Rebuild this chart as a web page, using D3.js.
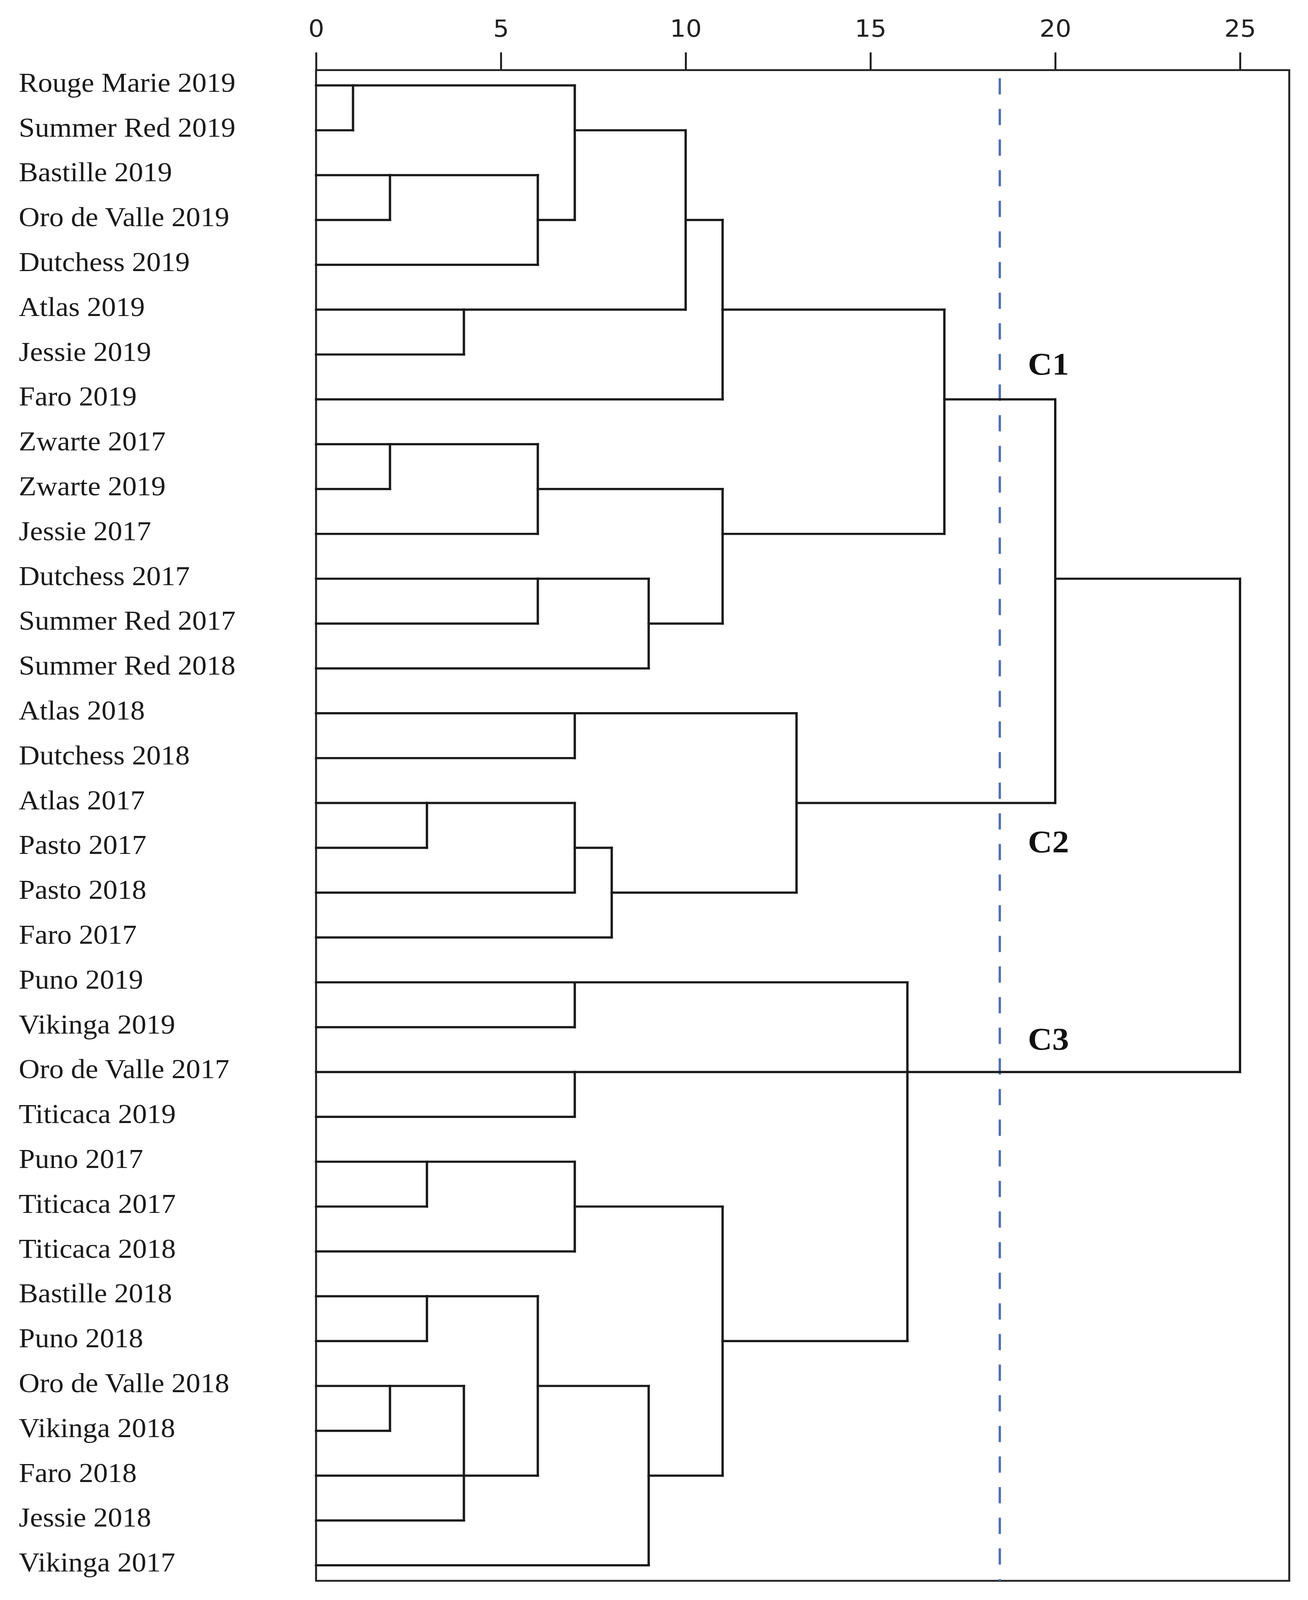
<!DOCTYPE html>
<html>
<head>
<meta charset="utf-8">
<script src="https://cdn.jsdelivr.net/npm/d3@7"></script>
<style>
  html, body { margin: 0; padding: 0; overflow: hidden; background: #fff; }
  .chart svg { display: block; width: 100vw; height: 100vh; }
</style>
</head>
<body>
<div class="chart"></div>
<script>
// leaves, top to bottom
var leafLabels = [
  "Rouge Marie 2019", "Summer Red 2019", "Bastille 2019", "Oro de Valle 2019",
  "Dutchess 2019", "Atlas 2019", "Jessie 2019", "Faro 2019",
  "Zwarte 2017", "Zwarte 2019", "Jessie 2017", "Dutchess 2017",
  "Summer Red 2017", "Summer Red 2018", "Atlas 2018", "Dutchess 2018",
  "Atlas 2017", "Pasto 2017", "Pasto 2018", "Faro 2017",
  "Puno 2019", "Vikinga 2019", "Oro de Valle 2017", "Titicaca 2019",
  "Puno 2017", "Titicaca 2017", "Titicaca 2018", "Bastille 2018",
  "Puno 2018", "Oro de Valle 2018", "Vikinga 2018", "Faro 2018",
  "Jessie 2018", "Vikinga 2017"
];

// merges: ids 0-33 are leaves, merge i gets id 34 + i
var mergeChildren = [
  [0, 1], [2, 3], [35, 4], [34, 36], [5, 6], [37, 38], [39, 7],
  [8, 9], [41, 10], [11, 12], [43, 13], [42, 44], [40, 45],
  [14, 15], [16, 17], [48, 18], [49, 19], [47, 50], [46, 51],
  [20, 21], [22, 23], [24, 25], [55, 26], [27, 28], [29, 30],
  [58, 31, 32], [57, 59], [60, 33], [56, 61], [53, 54, 62], [52, 63]
];
var mergeHeights = [
  1, 2, 6, 7, 4, 10, 11,
  2, 6, 6, 9, 11, 17,
  7, 3, 7, 8, 13, 20,
  7, 7, 3, 7, 3, 2,
  4, 6, 9, 11, 16, 25
];

var axisTicks = [0, 5, 10, 15, 20, 25];
var cutHeight = 18.5;
var clusterNames = ["C1", "C2", "C3"];

var svgWidth = 3348;
var svgHeight = 4336;

// drawn in a fixed 3348x4336 box, stretched to whatever the window is
var svg = d3.select(".chart")
  .append("svg")
  .attr("viewBox", `0 0 ${svgWidth} ${svgHeight}`)
  .attr("preserveAspectRatio", "none");

var frame = { left: 809, right: 3300, top: 190, bottom: 4284 };

var x = d3.scaleLinear()
  .domain([0, 25])
  .range([frame.left, frame.left + 25 * 94.6]);

var y = d3.scaleLinear()
  .domain([0, leafLabels.length - 1])
  .range([231.5, 4242]);

// row and height of every node
var nodeRow = leafLabels.map((d, i) => i);
var nodeHeight = leafLabels.map(() => 0);
mergeChildren.forEach(function(kids, i) {
  var rows = kids.map(k => nodeRow[k]).sort((a, b) => a - b);
  nodeRow.push(Math.floor(d3.median(rows)));
  nodeHeight.push(mergeHeights[i]);
});

// segments of the tree
var segs = [];
mergeChildren.forEach(function(kids, i) {
  var h = mergeHeights[i];
  var rows = kids.map(k => nodeRow[k]);
  segs.push({ x1: h, x2: h, r1: d3.min(rows), r2: d3.max(rows) });
  kids.forEach(function(k) {
    segs.push({ x1: nodeHeight[k], x2: h, r1: nodeRow[k], r2: nodeRow[k] });
  });
});

// frame
svg.append("rect")
  .attr("x", frame.left)
  .attr("y", frame.top)
  .attr("width", frame.right - frame.left)
  .attr("height", frame.bottom - frame.top)
  .attr("fill", "none")
  .attr("stroke", "#222")
  .attr("stroke-width", 5);

// top axis
var topAxis = d3.axisTop(x)
  .tickValues(axisTicks)
  .tickSize(48)
  .tickPadding(42);

var axisG = svg.append("g")
  .attr("transform", `translate(0, ${frame.top})`)
  .call(topAxis);

axisG.select(".domain").remove();
axisG.selectAll(".tick line")
  .attr("stroke", "#222")
  .attr("stroke-width", 5);
axisG.selectAll(".tick text")
  .attr("fill", "#222")
  .style("font-family", "'DejaVu Sans', sans-serif")
  .style("font-size", "64px");

// cut line
svg.append("line")
  .attr("x1", x(cutHeight))
  .attr("x2", x(cutHeight))
  .attr("y1", frame.top + 22)
  .attr("y2", frame.bottom)
  .attr("stroke", "#4f6fbf")
  .attr("stroke-width", 6)
  .attr("stroke-dasharray", "44 39");

// dendrogram
svg.append("g")
  .selectAll("line")
  .data(segs)
  .enter()
  .append("line")
  .attr("x1", d => x(d.x1))
  .attr("x2", d => x(d.x2))
  .attr("y1", d => y(d.r1))
  .attr("y2", d => y(d.r2))
  .attr("stroke", "#1a1a1a")
  .attr("stroke-width", 6)
  .attr("stroke-linecap", "square");

// leaf labels
svg.append("g")
  .selectAll("text")
  .data(leafLabels)
  .enter()
  .append("text")
  .attr("x", 48)
  .attr("y", (d, i) => y(i) + 17)
  .attr("fill", "#1a1a1a")
  .style("font-family", "'Liberation Serif', serif")
  .style("font-size", "74px")
  .text(d => d);

// cluster names, placed in row units
var clusterRows = [6.45, 17.1, 21.5];
svg.append("g")
  .selectAll("text")
  .data(clusterNames)
  .enter()
  .append("text")
  .attr("x", x(cutHeight) + 72)
  .attr("y", (d, i) => y(clusterRows[i]))
  .attr("fill", "#111")
  .style("font-family", "'Liberation Serif', serif")
  .style("font-weight", "bold")
  .style("font-size", "86px")
  .text(d => d);
</script>
</body>
</html>
